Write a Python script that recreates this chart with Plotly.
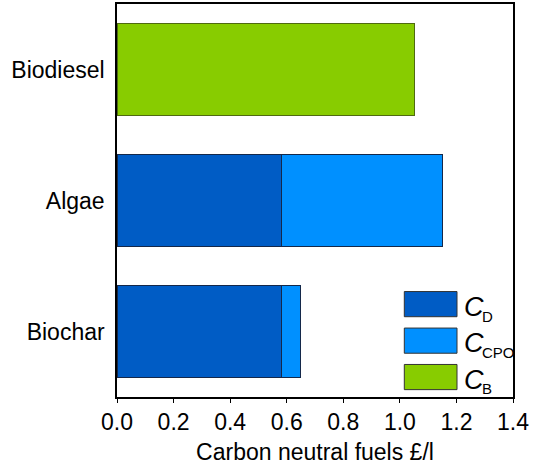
import plotly.graph_objects as go

categories = ["Biochar", "Algae", "Biodiesel"]
c_d = [0.58, 0.58, None]
c_cpo = [0.07, 0.57, None]
c_b = [None, None, 1.05]
x_ticks = [0.0, 0.2, 0.4, 0.6, 0.8, 1.0, 1.2, 1.4]
x_tick_labels = ["0.0", "0.2", "0.4", "0.6", "0.8", "1.0", "1.2", "1.4"]
legend_names = ["D", "CPO", "B"]

col_d = "#005cc5"
col_cpo = "#0090ff"
col_b = "#88cc00"
line_blue = "#14284a"
line_green = "#4f6a10"

FONT = "Liberation Sans, Arial, Helvetica, sans-serif"

W, H = 533, 465
ML, MR, MT, MB = 117, 20, 2, 68
PW = W - ML - MR
PH = H - MT - MB


def px2x(px):
    return (px - ML) / PW


def py2y(py):
    return (H - MB - py) / PH


fig = go.Figure()
fig.add_trace(go.Bar(y=categories, x=c_d, orientation="h", name="C_D",
                     marker=dict(color=col_d, line=dict(color=line_blue, width=1))))
fig.add_trace(go.Bar(y=categories, x=c_cpo, orientation="h", name="C_CPO",
                     marker=dict(color=col_cpo, line=dict(color=line_blue, width=1))))
fig.add_trace(go.Bar(y=categories, x=c_b, orientation="h", name="C_B",
                     marker=dict(color=col_b, line=dict(color=line_green, width=1))))

# Custom legend (boxes + italic labels with subscripts)
box_cols = [col_d, col_cpo, col_b]
box_tops_px = [291.0, 327.7, 364.3]
box_h_px = 25.3
shapes = []
annotations = []
for i, name in enumerate(legend_names):
    top = box_tops_px[i]
    bot = top + box_h_px
    mid = (top + bot) / 2
    shapes.append(dict(type="rect", xref="paper", yref="paper",
                       x0=px2x(404.3), x1=px2x(457.0), y0=py2y(bot), y1=py2y(top),
                       fillcolor=box_cols[i], line=dict(color="#333333", width=1)))
    annotations.append(dict(xref="paper", yref="paper", x=px2x(463), y=py2y(mid + 2.5),
                            xanchor="left", yanchor="middle", showarrow=False,
                            borderpad=0,
                            text="<i>C</i>",
                            font=dict(family=FONT, size=27, color="black")))
    annotations.append(dict(xref="paper", yref="paper", x=px2x(480.5), y=py2y(mid + 12.0),
                            xanchor="left", yanchor="middle", showarrow=False,
                            borderpad=0,
                            text=name,
                            font=dict(family=FONT, size=15, color="black")))

fig.update_layout(
    barmode="stack",
    bargap=0.3,
    width=W, height=H,
    margin=dict(l=ML, r=MR, t=MT, b=MB),
    plot_bgcolor="white", paper_bgcolor="white",
    showlegend=False,
    font=dict(family=FONT, size=23, color="black"),
    shapes=shapes,
    annotations=annotations,
    xaxis=dict(range=[0, 1.4], tickvals=x_ticks, ticktext=x_tick_labels,
               ticks="outside", ticklen=4, tickcolor="black", tickwidth=1,
               showline=True, linecolor="black", linewidth=1.5, mirror=True,
               showgrid=False, zeroline=False,
               title=dict(text="Carbon neutral fuels £/l", standoff=11,
                          font=dict(family=FONT, size=23)),
               tickfont=dict(family=FONT, size=23)),
    yaxis=dict(categoryorder="array", categoryarray=categories,
               range=[-0.5, 2.5], ticks="", showline=True, linecolor="black",
               linewidth=1.5, mirror=True, showgrid=False, zeroline=False,
               ticklabelstandoff=6,
               tickfont=dict(family=FONT, size=23)),
)

fig.write_html("out.html")
